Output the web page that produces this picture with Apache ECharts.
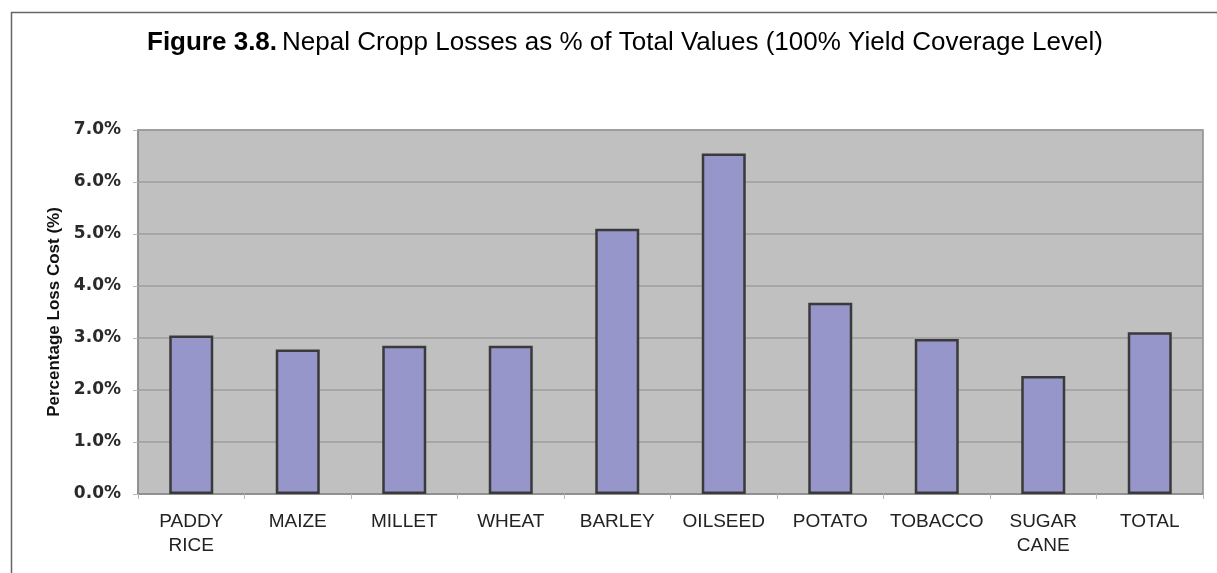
<!DOCTYPE html>
<html>
<head>
<meta charset="utf-8">
<script src="https://cdn.jsdelivr.net/npm/echarts@6/dist/echarts.min.js"></script>
<style>
html,body{margin:0;padding:0;background:#fff;}
#c{width:1217px;height:573px;}
</style>
</head>
<body>
<div id="c"></div>
<script>
const categories = ['PADDY\nRICE', 'MAIZE', 'MILLET', 'WHEAT', 'BARLEY', 'OILSEED', 'POTATO', 'TOBACCO', 'SUGAR\nCANE', 'TOTAL'];
const lossValues = [3.05, 2.78, 2.85, 2.85, 5.10, 6.55, 3.68, 2.98, 2.27, 3.11];
const yTicks = [0, 1, 2, 3, 4, 5, 6, 7];

const chart = echarts.init(document.getElementById('c'), null, {renderer: 'canvas'});
chart.setOption({
  animation: false,
  backgroundColor: '#ffffff',
  title: {
    left: 147,
    top: 30,
    padding: 0,
    text: '{b|Figure 3.8.} {n|Nepal Cropp Losses as % of Total Values (100% Yield Coverage Level)}',
    textStyle: {
      rich: {
        b: {fontFamily: 'Liberation Sans, Arial, sans-serif', fontWeight: 'bold', fontSize: 26, color: '#000'},
        n: {fontFamily: 'Liberation Sans, Arial, sans-serif', fontWeight: 'normal', fontSize: 26, color: '#000'}
      }
    }
  },
  graphic: [{
    type: 'polyline',
    silent: true,
    shape: {points: [[11.5, 573], [11.5, 12.5], [1217, 12.5]]},
    style: {stroke: '#666666', lineWidth: 1.5, fill: null}
  }],
  grid: {left: 138, right: 14, top: 130, bottom: 79, show: true, backgroundColor: '#c0c0c0', borderColor: '#8c8c8c', borderWidth: 1.5},
  xAxis: {
    type: 'category',
    data: categories,
    axisLine: {lineStyle: {color: '#8c8c8c', width: 1.5}},
    axisTick: {show: true, length: 5, lineStyle: {color: '#b8b8b8'}},
    axisLabel: {color: '#222', fontFamily: 'Liberation Sans, Arial, sans-serif', fontSize: 19, margin: 16, lineHeight: 24, interval: 0}
  },
  yAxis: {
    type: 'value',
    min: 0, max: 7, interval: 1,
    name: 'Percentage Loss Cost (%)',
    nameLocation: 'middle',
    nameGap: 75,
    nameRotate: 90,
    nameTextStyle: {color: '#111', fontFamily: 'Liberation Sans, Arial, sans-serif', fontSize: 17, fontWeight: 'bold'},
    axisLine: {show: true, lineStyle: {color: '#8c8c8c', width: 1.5}},
    axisTick: {show: true, length: 5, lineStyle: {color: '#b8b8b8'}},
    splitLine: {show: true, lineStyle: {color: '#9e9e9e', width: 1.5}},
    axisLabel: {
      color: '#2a2a2a', fontFamily: 'DejaVu Sans, sans-serif', fontSize: 17, fontWeight: 'bold', margin: 17,
      formatter: v => yTicks.includes(v) ? v.toFixed(1) + '%' : ''
    }
  },
  series: [{
    type: 'bar',
    data: lossValues,
    barWidth: 44,
    itemStyle: {color: '#9696ca', borderColor: '#3a3a3a', borderWidth: 2.5}
  }]
});
</script>
</body>
</html>
